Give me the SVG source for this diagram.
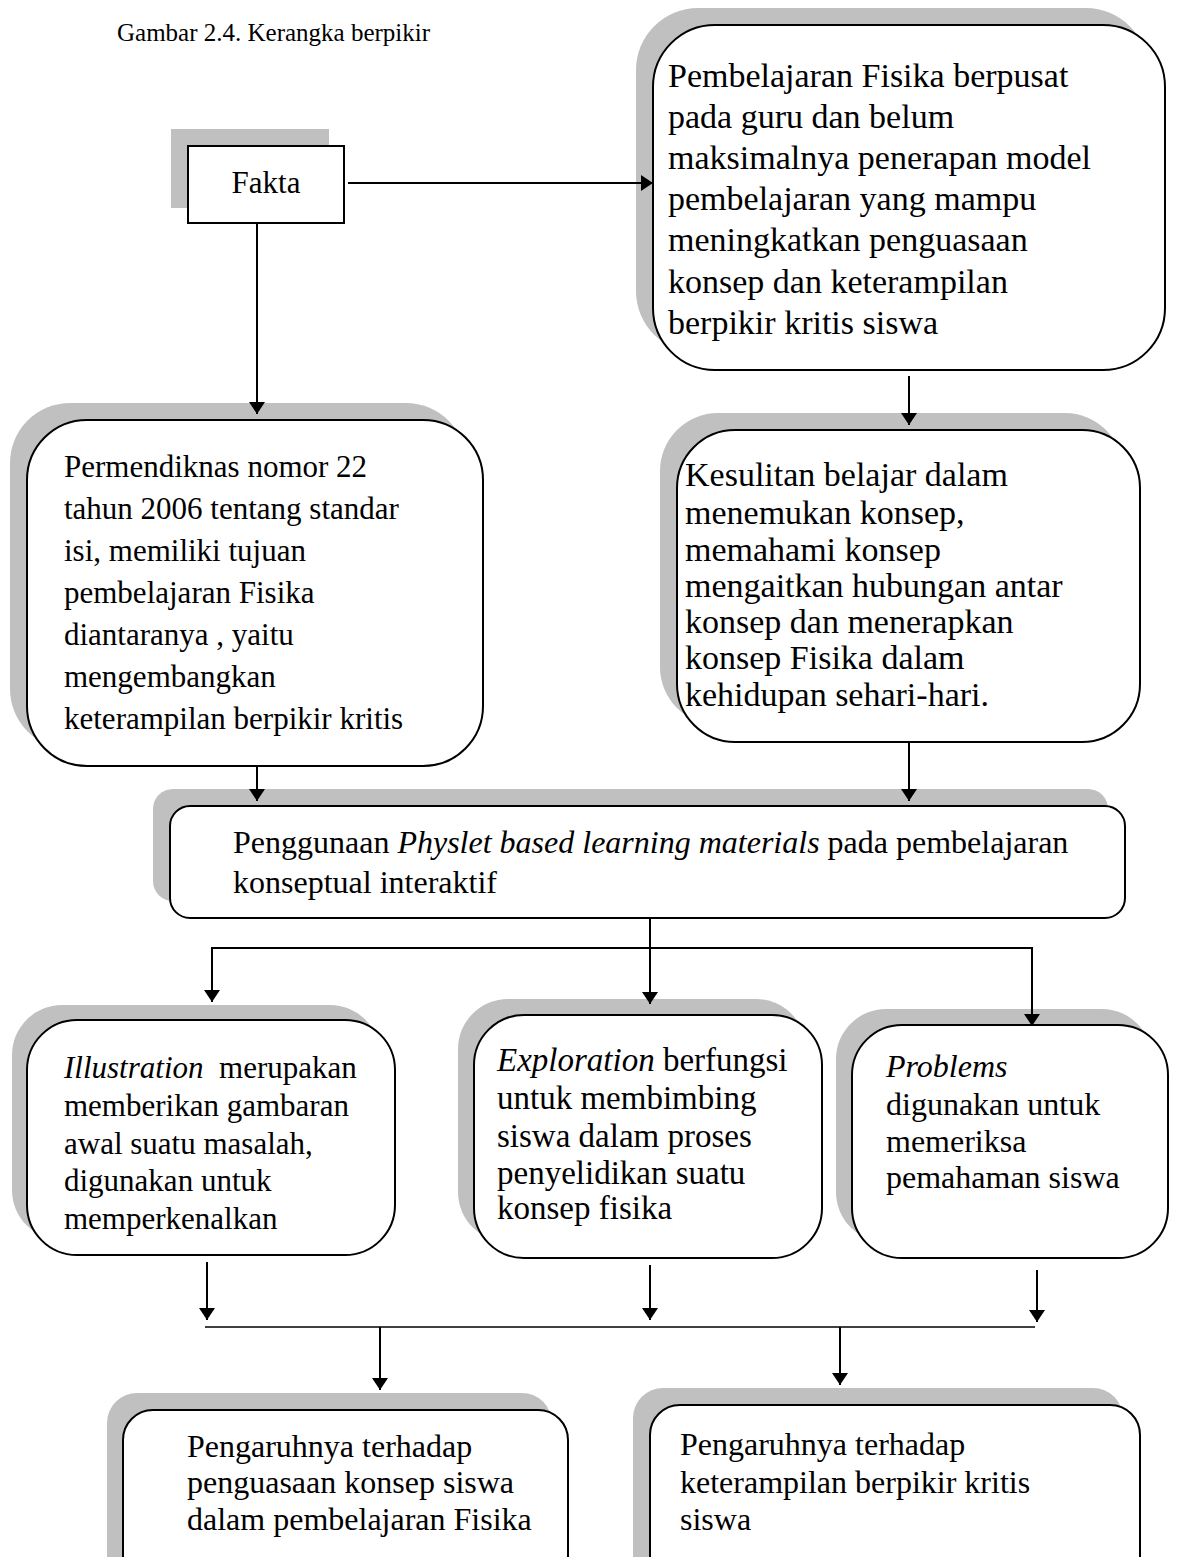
<svg xmlns="http://www.w3.org/2000/svg" width="1184" height="1557" viewBox="0 0 1184 1557">
<style>
.sh{fill:#c0c0c0;stroke:none}
.bx{fill:#fff;stroke:#000;stroke-width:2}
.t{font-family:"Liberation Serif","Times New Roman",serif;font-size:31px;fill:#000}
.i{font-style:italic}
.ln{stroke:#000;stroke-width:2;fill:none}
.thin{stroke:#000;stroke-width:1.3;fill:none}
</style>
<defs>
<marker id="ah" viewBox="0 0 12 16" refX="12" refY="8" markerWidth="12" markerHeight="16" markerUnits="userSpaceOnUse" orient="auto">
<path d="M0,0 L12,8 L0,16 z" fill="#000"/>
</marker>
</defs>
<rect width="1184" height="1557" fill="#fff"/>
<text class="t" x="117" y="41" style="font-size:25px">Gambar 2.4. Kerangka berpikir</text>

<g id="fakta">
<rect class="sh" x="171" y="129" width="158" height="79"/>
<rect class="bx" x="188" y="146" width="156" height="77"/>
<text class="t" x="266" y="193" text-anchor="middle">Fakta</text>
</g>

<g id="pembelajaran">
<rect class="sh" x="636" y="8" width="512" height="345" rx="62"/>
<rect class="bx" x="653" y="25" width="512" height="345" rx="62"/>
<text class="t" style="font-size:34px"><tspan x="668" y="87">Pembelajaran Fisika berpusat</tspan><tspan x="668" y="128">pada guru dan belum</tspan><tspan x="668" y="169">maksimalnya penerapan model</tspan><tspan x="668" y="210">pembelajaran yang mampu</tspan><tspan x="668" y="251">meningkatkan penguasaan</tspan><tspan x="668" y="293">konsep dan keterampilan</tspan><tspan x="668" y="334">berpikir kritis siswa</tspan></text>
</g>

<g id="permendiknas">
<rect class="sh" x="10" y="403" width="456" height="346" rx="60"/>
<rect class="bx" x="27" y="420" width="456" height="346" rx="60"/>
<text class="t"><tspan x="64" y="477">Permendiknas nomor 22</tspan><tspan x="64" y="519">tahun 2006 tentang standar</tspan><tspan x="64" y="561">isi, memiliki tujuan</tspan><tspan x="64" y="603">pembelajaran Fisika</tspan><tspan x="64" y="645">diantaranya , yaitu</tspan><tspan x="64" y="687">mengembangkan</tspan><tspan x="64" y="729">keterampilan berpikir kritis</tspan></text>
</g>

<g id="kesulitan">
<rect class="sh" x="660" y="413" width="463" height="312" rx="58"/>
<rect class="bx" x="677" y="430" width="463" height="312" rx="58"/>
<text class="t" style="font-size:34px"><tspan x="685" y="486">Kesulitan belajar dalam</tspan><tspan x="685" y="524">menemukan konsep,</tspan><tspan x="685" y="561">memahami konsep</tspan><tspan x="685" y="597">mengaitkan hubungan antar</tspan><tspan x="685" y="633">konsep dan menerapkan</tspan><tspan x="685" y="669">konsep Fisika dalam</tspan><tspan x="685" y="706">kehidupan sehari-hari.</tspan></text>
</g>

<g id="penggunaan">
<rect class="sh" x="153" y="789" width="955" height="112" rx="20"/>
<rect class="bx" x="170" y="806" width="955" height="112" rx="20"/>
<text class="t" style="font-size:32px"><tspan x="233" y="853">Penggunaan <tspan class="i">Physlet based learning materials</tspan> pada pembelajaran</tspan><tspan x="233" y="893">konseptual interaktif</tspan></text>
</g>

<g id="illustration">
<rect class="sh" x="12" y="1005" width="368" height="235" rx="50"/>
<rect class="bx" x="27" y="1020" width="368" height="235" rx="50"/>
<text class="t"><tspan x="64" y="1078"><tspan class="i">Illustration</tspan>&#160; merupakan</tspan><tspan x="64" y="1116">memberikan gambaran</tspan><tspan x="64" y="1154">awal suatu masalah,</tspan><tspan x="64" y="1191">digunakan untuk</tspan><tspan x="64" y="1229">memperkenalkan</tspan></text>
</g>

<g id="exploration">
<rect class="sh" x="458" y="999" width="348" height="243" rx="50"/>
<rect class="bx" x="474" y="1015" width="348" height="243" rx="50"/>
<text class="t" style="font-size:33px"><tspan x="497" y="1071"><tspan class="i">Exploration</tspan> berfungsi</tspan><tspan x="497" y="1109">untuk membimbing</tspan><tspan x="497" y="1147">siswa dalam proses</tspan><tspan x="497" y="1184">penyelidikan suatu</tspan><tspan x="497" y="1219">konsep fisika</tspan></text>
</g>

<g id="problems">
<rect class="sh" x="836" y="1009" width="316" height="233" rx="50"/>
<rect class="bx" x="852" y="1025" width="316" height="233" rx="50"/>
<text class="t" style="font-size:32px"><tspan x="886" y="1077" class="i">Problems</tspan><tspan x="886" y="1115">digunakan untuk</tspan><tspan x="886" y="1152">memeriksa</tspan><tspan x="886" y="1188">pemahaman siswa</tspan></text>
</g>

<g id="pengaruh1">
<rect class="sh" x="107" y="1393" width="445" height="220" rx="30"/>
<rect class="bx" x="123" y="1410" width="445" height="220" rx="30"/>
<text class="t" style="font-size:32px"><tspan x="187" y="1457">Pengaruhnya terhadap</tspan><tspan x="187" y="1493">penguasaan konsep siswa</tspan><tspan x="187" y="1530">dalam pembelajaran Fisika</tspan></text>
</g>

<g id="pengaruh2">
<rect class="sh" x="633" y="1388" width="490" height="220" rx="30"/>
<rect class="bx" x="650" y="1405" width="490" height="220" rx="30"/>
<text class="t" style="font-size:32px"><tspan x="680" y="1455">Pengaruhnya terhadap</tspan><tspan x="680" y="1493">keterampilan berpikir kritis</tspan><tspan x="680" y="1530">siswa</tspan></text>
</g>

<g id="connectors">
<line class="ln" x1="348" y1="183" x2="653" y2="183" marker-end="url(#ah)"/>
<line class="ln" x1="257" y1="223" x2="257" y2="414" marker-end="url(#ah)"/>
<line class="ln" x1="909" y1="376" x2="909" y2="425" marker-end="url(#ah)"/>
<line class="ln" x1="257" y1="766" x2="257" y2="801" marker-end="url(#ah)"/>
<line class="ln" x1="909" y1="742" x2="909" y2="801" marker-end="url(#ah)"/>
<line class="ln" x1="650" y1="918" x2="650" y2="1004" marker-end="url(#ah)"/>
<polyline class="ln" points="212,990 212,948 1032,948 1032,1015"/>
<line class="ln" x1="212" y1="960" x2="212" y2="1002" marker-end="url(#ah)"/>
<line class="ln" x1="1032" y1="960" x2="1032" y2="1026" marker-end="url(#ah)"/>
<line class="ln" x1="207" y1="1262" x2="207" y2="1320" marker-end="url(#ah)"/>
<line class="ln" x1="650" y1="1265" x2="650" y2="1320" marker-end="url(#ah)"/>
<line class="ln" x1="1037" y1="1270" x2="1037" y2="1322" marker-end="url(#ah)"/>
<line class="thin" x1="205" y1="1327" x2="1035" y2="1327"/>
<line class="ln" x1="380" y1="1327" x2="380" y2="1390" marker-end="url(#ah)"/>
<line class="ln" x1="840" y1="1327" x2="840" y2="1385" marker-end="url(#ah)"/>
</g>
</svg>
